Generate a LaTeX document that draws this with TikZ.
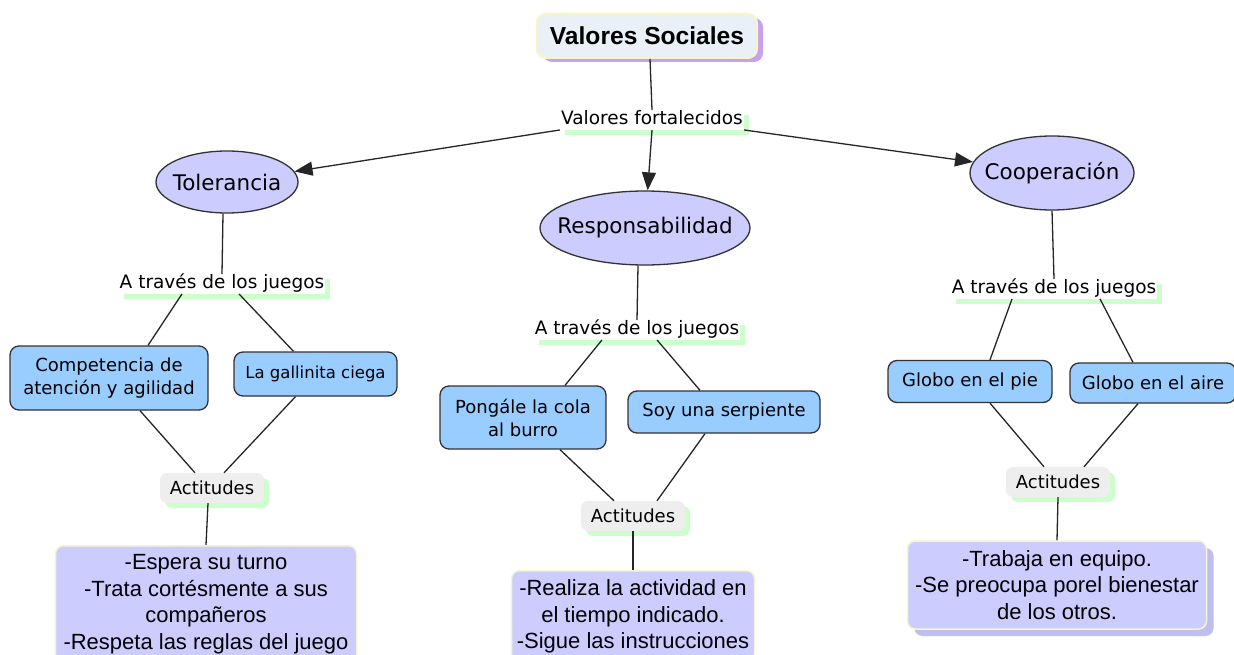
\documentclass[tikz,border=0pt]{standalone}
\usepackage{fontspec}
\setmainfont{DejaVu Sans}
\newfontfamily\arialf{Liberation Sans}
\usetikzlibrary{arrows.meta,shapes.geometric,shadows,calc}
\definecolor{lav}{RGB}{204,204,255}
\definecolor{gameblue}{RGB}{153,204,255}
\definecolor{actgray}{RGB}{238,238,238}
\definecolor{greensh}{RGB}{204,255,204}
\definecolor{titlefill}{RGB}{233,240,247}
\definecolor{titleborder}{RGB}{245,245,200}
\definecolor{titleshadow}{RGB}{200,160,240}
\definecolor{resborder}{RGB}{245,245,205}
\definecolor{ressh}{RGB}{190,190,240}
\begin{document}
\begin{tikzpicture}[x=1pt,y=-1pt,
  titlebox/.style={rounded corners=9pt, fill=titlefill, draw=titleborder, line width=2pt,
    minimum width=220pt, minimum height=44pt, inner sep=0pt,
    font=\arialf\bfseries\fontsize{24.6}{28}\selectfont,
    general shadow={fill=titleshadow, shadow xshift=6pt, shadow yshift=-4pt}},
  lbl/.style={fill=white, inner sep=1pt, text height=13.5pt, text depth=4pt,
    font=\fontsize{18.5}{22}\selectfont,
    general shadow={fill=greensh, shadow xshift=5pt, shadow yshift=-5pt}},
  ell/.style={ellipse, draw=black!80, line width=1.3pt, fill=lav, inner xsep=-22pt, inner ysep=0pt,
    font=\fontsize{21.5}{25}\selectfont},
  game/.style={rounded corners=9pt, draw=black!80, line width=1.3pt, fill=gameblue,
    align=center, inner sep=0pt, font=\fontsize{18}{23}\selectfont},
  act/.style={rounded corners=7pt, fill=actgray, minimum width=104pt, minimum height=30pt,
    inner sep=0pt, font=\fontsize{18}{22}\selectfont,
    general shadow={fill=greensh, shadow xshift=5pt, shadow yshift=-5pt}},
  res/.style={rounded corners=8pt, fill=lav, draw=resborder, line width=1.5pt, align=center,
    inner xsep=4pt, inner ysep=9pt, font=\arialf\fontsize{22}{26.5}\selectfont},
  resshadow/.style={general shadow={fill=ressh, shadow xshift=7pt, shadow yshift=-7pt}},
  conn/.style={draw=black!85, line width=1.3pt},
  arr/.style={conn, -{Triangle[length=18pt,width=14pt]}}
]
\useasboundingbox[fill=white] (0,0) rectangle (1234,655);

% title and first label
\node[titlebox] (vs) at (647,36) {Valores Sociales};
\node[lbl] (vf) at (652,120) {Valores fortalecidos};

% values
\node[ell, minimum width=142pt, minimum height=62pt] (tol) at (227,182) {Tolerancia};
\node[ell, minimum width=210pt, minimum height=74pt] (resp) at (645,228) {Responsabilidad};
\node[ell, minimum width=164pt, minimum height=74pt] (coop) at (1052,173) {Cooperación};

% labels
\node[lbl] (j1) at (222,284) {A través de los juegos};
\node[lbl] (j2) at (637,330) {A través de los juegos};
\node[lbl] (j3) at (1054,289) {A través de los juegos};

% games
\node[game, minimum width=198pt, minimum height=64pt] (c1) at (109,378) {Competencia de\\atención y agilidad};
\node[game, minimum width=163pt, minimum height=44pt, font=\fontsize{16.5}{20}\selectfont] (g1) at (315.5,374) {La gallinita ciega};
\node[game, minimum width=166pt, minimum height=63pt] (p2) at (523,417.5) {Pongále la cola\\al burro};
\node[game, minimum width=192pt, minimum height=42pt] (s2) at (724,412) {Soy una serpiente};
\node[game, minimum width=164pt, minimum height=42pt] (gp) at (970,381.5) {Globo en el pie};
\node[game, minimum width=166pt, minimum height=40pt] (ga) at (1153,383) {Globo en el aire};

% attitudes
\node[act] (a1) at (212,488) {Actitudes};
\node[act] (a2) at (633,516) {Actitudes};
\node[act] (a3) at (1058,482) {Actitudes};

% results
\node[res, anchor=north, minimum width=301pt] (r1) at (206,545) {-Espera su turno\\-Trata cortésmente a sus\\compañeros\\-Respeta las reglas del juego};
\node[res, anchor=north, minimum width=243pt] (r2) at (633,570) {-Realiza la actividad en\\el tiempo indicado.\\-Sigue las instrucciones};
\node[res, resshadow, minimum width=299pt, minimum height=88pt] (r3) at (1057,585) {-Trabaja en equipo.\\-Se preocupa porel bienestar\\de los otros.};

% connectors
\draw[conn] ([xshift=3pt]vs.south) -- (vf.north);
\draw[arr] (vf.south west) -- (tol);
\draw[arr] (vf.south) -- (resp);
\draw[arr] (vf.south east) -- (coop);

\draw[conn] ([xshift=-4pt]tol.south) -- (j1.north);
\draw[conn] ([xshift=-40pt]j1.south) -- ([xshift=39pt]c1.north);
\draw[conn] ([xshift=17pt]j1.south) -- ([xshift=-22pt]g1.north);
\draw[conn] ([xshift=31pt]c1.south) -- ([xshift=-17pt]a1.north);
\draw[conn] ([xshift=-20pt]g1.south) -- ([xshift=12pt]a1.north);
\draw[conn] ([xshift=-4pt]a1.south) -- (r1.north);

\draw[conn] ([xshift=-7pt]resp.south) -- (j2.north);
\draw[conn] ([xshift=-35pt]j2.south) -- ([xshift=42pt]p2.north);
\draw[conn] ([xshift=20pt]j2.south) -- ([xshift=-24pt]s2.north);
\draw[conn] ([xshift=37pt]p2.south) -- ([xshift=-19pt]a2.north);
\draw[conn] ([xshift=-19pt]s2.south) -- ([xshift=24pt]a2.north);
\draw[conn] (a2.south) -- (r2.north);

\draw[conn] (coop.south) -- (j3.north);
\draw[conn] ([xshift=-42pt]j3.south) -- ([xshift=20pt]gp.north);
\draw[conn] ([xshift=46pt]j3.south) -- ([xshift=-20pt]ga.north);
\draw[conn] ([xshift=20pt]gp.south) -- ([xshift=-14pt]a3.north);
\draw[conn] ([xshift=-15pt]ga.south) -- ([xshift=26pt]a3.north);
\draw[conn] (a3.south) -- (r3.north);
\end{tikzpicture}
\end{document}
